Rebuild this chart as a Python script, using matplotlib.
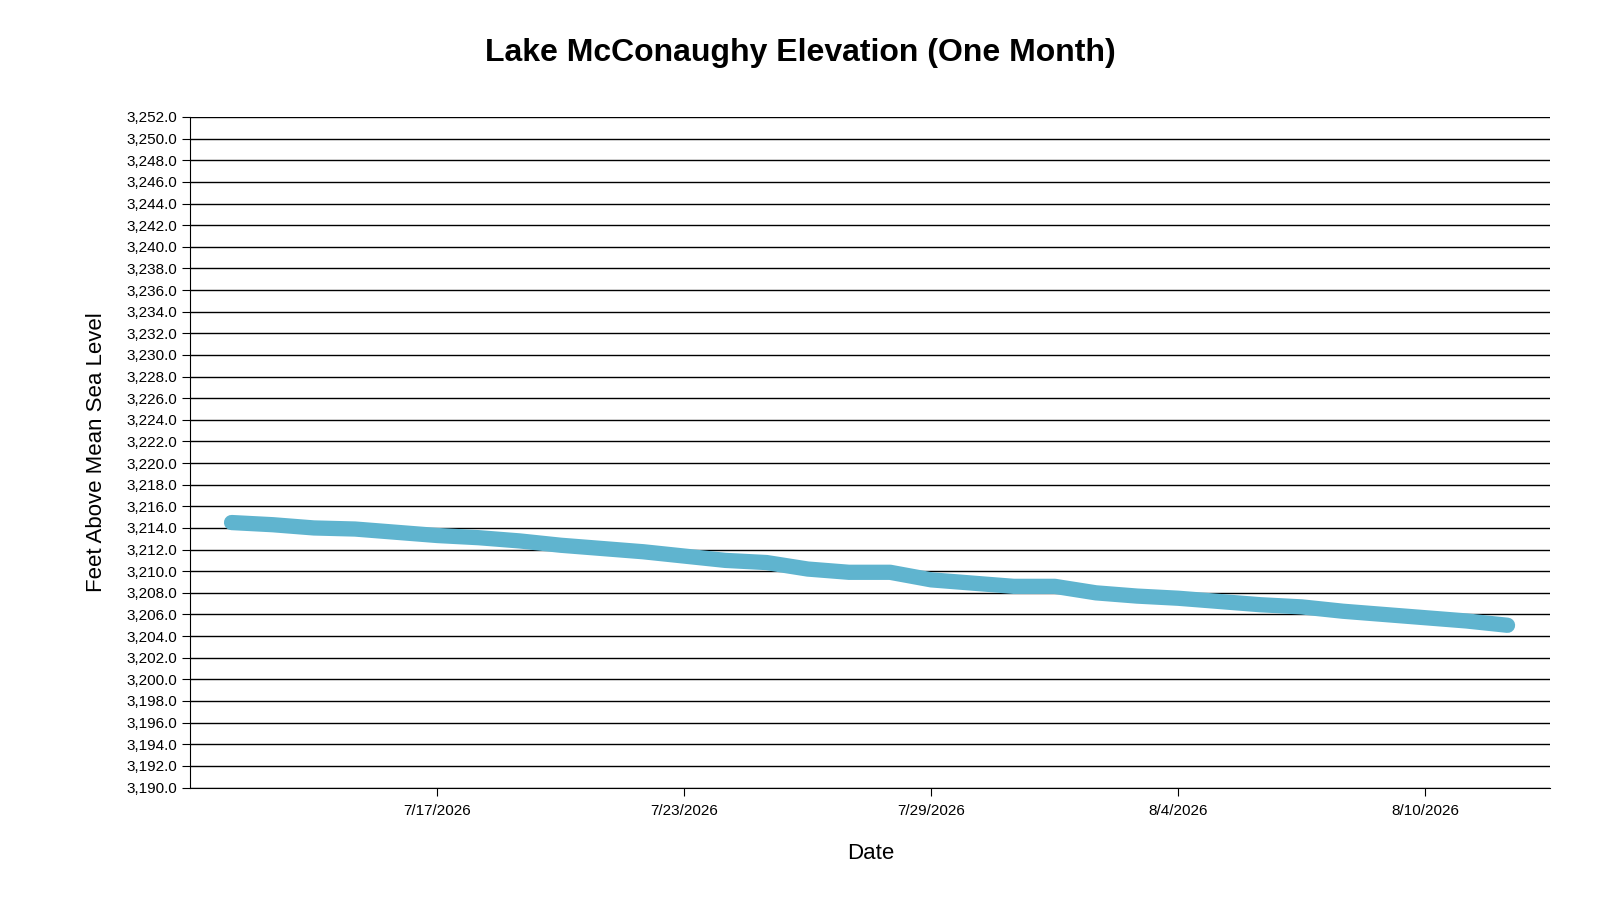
import numpy as np
import pandas as pd
import matplotlib
matplotlib.use("Agg")
import matplotlib.pyplot as plt
import matplotlib.dates as mdates
from matplotlib.ticker import FuncFormatter, MultipleLocator

plt.rcParams['font.family'] = ['Liberation Sans', 'DejaVu Sans']

dates = pd.date_range("2026-07-12", "2026-08-12", freq="D")
elevation = [3214.5, 3214.3, 3214.0, 3213.9, 3213.6, 3213.3, 3213.1, 3212.8,
             3212.4, 3212.1, 3211.8, 3211.4, 3211.0, 3210.8, 3210.2, 3209.9,
             3209.9, 3209.2, 3208.9, 3208.6, 3208.6, 3208.0, 3207.7, 3207.5,
             3207.2, 3206.9, 3206.7, 3206.3, 3206.0, 3205.7, 3205.4, 3205.0]
tick_dates = pd.to_datetime(["2026-07-17", "2026-07-23", "2026-07-29", "2026-08-04", "2026-08-10"])
tick_labels = ["7/17/2026", "7/23/2026", "7/29/2026", "8/4/2026", "8/10/2026"]

fig = plt.figure(figsize=(16, 9), dpi=100)
ax = fig.add_axes([0.119, 0.125, 0.850, 0.745])

ax.plot(dates, elevation, color="#5fb4cf", lw=11, solid_capstyle="round",
        solid_joinstyle="round", zorder=3)

ax.set_ylim(3190, 3252)
ax.yaxis.set_major_locator(MultipleLocator(2))
ax.yaxis.set_major_formatter(FuncFormatter(lambda v, p: f"{v:,.1f}"))
ax.grid(axis="y", color="black", lw=1)
ax.set_xlim(pd.Timestamp("2026-07-11"), pd.Timestamp("2026-08-13 1:00"))
ax.set_xticks(tick_dates)
ax.set_xticklabels(tick_labels)

for s in ["top", "right"]:
    ax.spines[s].set_visible(False)
ax.spines["left"].set_bounds(3190, 3252)
ax.tick_params(axis="both", labelsize=11, length=6, color="black")
ax.tick_params(axis="x", pad=6)

ax.set_xlabel("Date", fontsize=16, labelpad=18)
ax.set_ylabel("Feet Above Mean Sea Level", fontsize=16, labelpad=14)
fig.suptitle("Lake McConaughy Elevation (One Month)", fontsize=23, fontweight="heavy", y=0.958)

fig.savefig("out.png", dpi=100)
